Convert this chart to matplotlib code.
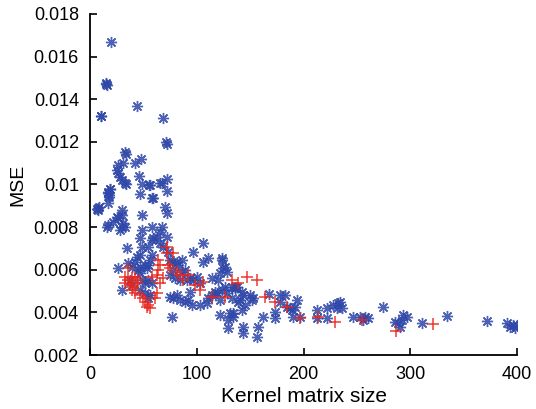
import matplotlib
matplotlib.use("Agg")
import matplotlib.pyplot as plt

# valores (tamano de matriz kernel, MSE)
blue_x = [19.7, 14.5, 15.0, 15.5, 10.3, 9.8, 44.0, 68.4, 71.2, 71.8, 32.8, 33.3,
          26.2, 30.9, 25.3, 26.2, 28.1, 30.0, 42.2, 47.8, 45.9, 48.7, 55.3, 46.8,
          32.8, 33.5, 18.7, 16.9, 17.8, 18.2, 67.4, 72.1, 72.1, 59.0,
          7.5, 6.8, 8.2, 7.2, 16.9, 18.7, 16.9, 30.0, 30.0, 26.2, 25.3,
          15.9, 16.9, 32.8, 48.7, 58.1,
          21.5, 30.9, 30.0, 28.1, 34.7, 26.2, 30.0,
          35.6, 39.3, 42.2, 44.0, 46.8, 48.7, 46.8, 48.7,
          46.8, 45.0, 51.5, 54.3, 53.4, 56.2, 58.1, 54.3, 58.1, 59.0, 62.8, 65.6, 67.4,
          70.3, 72.1, 65.6, 56.2, 58.1,
          65.6, 68.4, 72.1, 73.0, 74.9,
          46.8, 48.7, 51.5, 54.3, 58.1, 51.5, 37.5, 39.3, 46.8, 56.2, 54.3,
          74.9, 79.6, 84.3, 77.8, 76.8, 81.5, 82.4, 86.2, 77.8, 74.9, 81.5, 76.8,
          86.2, 89.0, 90.9, 93.7, 96.5, 100.2, 103.0,
          96.5, 105.9, 105.9, 110.5, 114.3, 119.9,
          93.7, 95.6, 103.0, 109.6, 110.5, 114.3, 117.1, 119.0, 121.8, 123.7, 128.3,
          131.2, 134.0, 133.0, 137.7, 138.6, 123.7, 124.6, 128.3, 135.8,
          84.3, 89.0, 92.0,
          123.7, 126.5, 121.8, 126.5, 133.0, 135.8, 142.4, 143.3, 149.9, 152.7, 151.8,
          140.5, 145.2, 142.4, 134.0, 121.8, 129.3, 129.3, 143.3, 143.3, 157.4, 156.4,
          162.0, 167.7, 178.0, 182.7, 178.0, 173.3, 173.3, 184.5, 187.4, 189.2, 190.2,
          193.9, 192.0, 196.7, 212.6, 222.0, 222.0, 212.6, 227.6, 232.3, 234.2, 236.0,
          231.4, 246.4, 253.0, 257.6, 260.4, 255.7, 274.5, 285.7, 288.5, 292.3, 293.2,
          290.4, 297.0, 311.0, 334.4, 371.9, 390.6, 393.4, 396.3, 398.1, 400.0]
blue_y = [0.0167, 0.01475, 0.0147, 0.01468, 0.0132, 0.01322, 0.0137, 0.0131, 0.0120, 0.01192, 0.0115, 0.01142,
          0.01092, 0.01101, 0.01069, 0.01055, 0.01036, 0.01022, 0.0110, 0.0112, 0.0104, 0.0100, 0.00998, 0.00956,
          0.01008, 0.0100, 0.00979, 0.0096, 0.00942, 0.0095, 0.01008, 0.01026, 0.0097, 0.00937,
          0.0089, 0.00885, 0.00895, 0.00878, 0.00965, 0.0098, 0.00914, 0.00881, 0.00857, 0.00843, 0.00848,
          0.00801, 0.0081, 0.00801, 0.00857, 0.00801,
          0.00824, 0.0082, 0.00801, 0.00787, 0.00702, 0.00608, 0.00505,
          0.00632, 0.00613, 0.00637, 0.0066, 0.00669, 0.00707, 0.00749, 0.00787,
          0.00613, 0.00599, 0.00623, 0.00623, 0.00608, 0.00646, 0.00669, 0.00707, 0.0074, 0.00749, 0.00754, 0.00777, 0.00801,
          0.00895, 0.00867, 0.01008, 0.00998, 0.00937,
          0.00726, 0.00707, 0.00754, 0.00684, 0.00646,
          0.00585, 0.00552, 0.00538, 0.00552, 0.00538, 0.00491, 0.00552, 0.00529, 0.00505, 0.00482, 0.00468,
          0.00576, 0.00562, 0.00552, 0.00599, 0.00637, 0.00637, 0.00623, 0.00646, 0.00468, 0.00472, 0.00482, 0.00378,
          0.0059, 0.00599, 0.00552, 0.00562, 0.00552, 0.00566, 0.00538,
          0.00684, 0.00726, 0.00637, 0.00655, 0.00562, 0.00552,
          0.00496, 0.00435, 0.00435, 0.00444, 0.00468, 0.00482, 0.00496, 0.00491, 0.00458, 0.00505, 0.00491,
          0.00397, 0.00378, 0.00468, 0.00519, 0.00449, 0.00646, 0.00608, 0.0059, 0.00519,
          0.00458, 0.00449, 0.0046,
          0.00655, 0.00613, 0.00585, 0.00519, 0.00519, 0.00515, 0.00496, 0.00482, 0.00482, 0.00468, 0.00458,
          0.00458, 0.00435, 0.00411, 0.00397, 0.00388, 0.00364, 0.00327, 0.00331, 0.00303, 0.00331, 0.00285,
          0.00378, 0.00486, 0.00482, 0.00482, 0.00449, 0.00402, 0.00374, 0.00425, 0.00421, 0.00411, 0.00378,
          0.00458, 0.00425, 0.00378, 0.00411, 0.00421, 0.00374, 0.00374, 0.00435, 0.00444, 0.00449, 0.00421,
          0.00421, 0.00378, 0.00378, 0.00378, 0.00374, 0.00364, 0.00425, 0.00355, 0.0035, 0.00364, 0.00388,
          0.00331, 0.00378, 0.0035, 0.00383, 0.0036, 0.0035, 0.00331, 0.00341, 0.00327, 0.00341]

red_x = [35.6, 32.8, 35.6, 39.3, 42.2, 45.0, 32.8, 37.5, 40.3, 44.0, 39.3, 42.2,
         46.8, 49.6, 51.5, 54.3, 56.2, 53.4, 60.9, 62.8, 65.6, 58.0, 62.8, 63.7,
         65.6, 63.7, 72.1, 72.1, 77.8, 73.0, 74.9, 68.4, 81.5, 84.3, 91.8, 87.1,
         98.4, 103.0, 105.9, 114.3, 126.5, 133.0, 138.6, 147.0, 156.4, 164.0,
         173.3, 184.5, 196.7, 213.6, 229.5, 254.8, 286.6, 321.3]
red_y = [0.00608, 0.00566, 0.00552, 0.00562, 0.00566, 0.00552, 0.00538, 0.00529, 0.00519, 0.00538, 0.00505, 0.00491,
         0.00482, 0.00468, 0.00449, 0.00435, 0.00421, 0.00425, 0.00468, 0.00491, 0.00538, 0.00566, 0.00576, 0.00599,
         0.00623, 0.00646, 0.00707, 0.00679, 0.00679, 0.00623, 0.00608, 0.00562, 0.0059, 0.00576, 0.00576, 0.00552,
         0.00529, 0.00505, 0.00543, 0.00472, 0.00472, 0.00552, 0.00538, 0.00566, 0.00552, 0.00472,
         0.00449, 0.00425, 0.00374, 0.00378, 0.00355, 0.00364, 0.00313, 0.00346]

y_ticks = [0.002, 0.004, 0.006, 0.008, 0.01, 0.012, 0.014, 0.016, 0.018]
y_labels = ["0.002", "0.004", "0.006", "0.008", "0.01", "0.012", "0.014", "0.016", "0.018"]
x_ticks = [0, 100, 200, 300, 400]

plt.rcParams['font.family'] = ['Liberation Sans', 'DejaVu Sans']

fig = plt.figure(figsize=(5.36, 4.09), dpi=100)
ax = fig.add_axes([0.168, 0.132, 0.797, 0.834])

ax.plot(blue_x, blue_y, linestyle='none', marker=(8, 2, 0), markersize=8,
        markeredgewidth=1.0, color='#2f47a8', alpha=0.85)
ax.plot(red_x, red_y, linestyle='none', marker='+', markersize=9,
        markeredgewidth=1.1, color='#e8251c', alpha=0.9)

ax.set_xlim(0, 400)
ax.set_ylim(0.002, 0.018)
ax.set_xticks(x_ticks)
ax.set_yticks(y_ticks)
ax.set_yticklabels(y_labels)
ax.tick_params(direction='in', length=5, width=1.2, labelsize=13, colors='black')
ax.tick_params(axis='x', pad=8)
ax.tick_params(axis='y', pad=8)

for side in ['top', 'right']:
    ax.spines[side].set_visible(False)
for side in ['left', 'bottom']:
    ax.spines[side].set_linewidth(1.3)

ax.set_xlabel("Kernel matrix size", fontsize=15, labelpad=3)
ax.set_ylabel("MSE", fontsize=14, labelpad=5)

fig.savefig("out.png", dpi=100)
